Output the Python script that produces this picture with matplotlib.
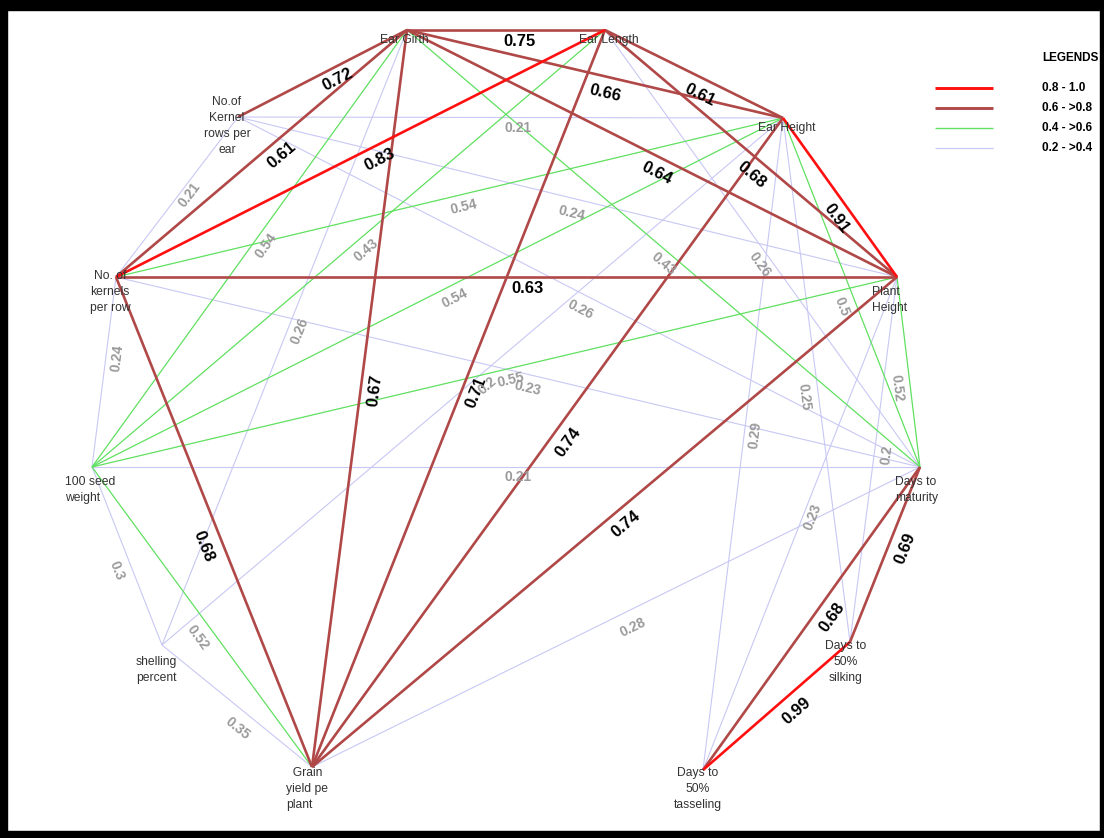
import numpy as np
import matplotlib.pyplot as plt
from matplotlib.patches import Rectangle

W, H = 1104, 838

# nodes of the correlation diagram (pixel layout of the original sketch)
node_keys = ["EG", "EL", "KR", "EH", "KP", "PH", "SW", "DM", "SP", "DS", "GY", "DT"]
node_labels = ["Ear Girth", "Ear Length", "No.of\nKernel\nrows per\near", "Ear Height",
               "No. of\nkernels\nper row", "Plant\nHeight", "100 seed\nweight", "Days to\nmaturity",
               "shelling\npercent", "Days to\n50%\nsilking", "  Grain\nyield pe\nplant",
               "Days to\n50%\ntasseling"]
node_x = [407, 605, 238, 783, 116, 897, 92, 920, 162, 850, 312, 703]
node_y = [30, 30, 117, 118, 277, 277, 467, 467, 645, 642, 767, 770]
# where each node caption sits relative to its node
lab_dx = [-3, 4, -11, 4, -6, -25, -27, -25, -26, -4, -26, -5]
lab_dy = [10, 10, 9, 10, 15, 23, 23, 23, 25, 20, 22, 19]
lab_ha = ["center", "center", "center", "center", "center", "left", "left", "left",
          "left", "center", "left", "center"]

# edges: source, target, correlation, label anchor
edge_src = ["EG", "KR", "KP", "KP", "EG", "EL", "EG", "EL", "EH", "KP", "GY", "GY", "GY", "GY",
            "KP", "DS", "DT", "DT",
            "KP", "SW", "SW", "SP", "SW", "SW", "SW", "SP", "KR", "KP", "SW", "KR", "EG", "KR",
            "EL", "EH", "PH", "DS", "EH", "DT", "DT", "GY", "SW", "SP", "SW", "KP"]
edge_dst = ["EL", "EG", "EG", "EL", "EH", "EH", "PH", "PH", "PH", "PH", "EG", "EL", "EH", "PH",
            "GY", "DM", "DM", "DS",
            "KR", "EG", "EL", "EG", "KP", "SP", "GY", "GY", "EH", "EH", "EH", "PH", "DM", "DM",
            "DM", "DM", "DM", "PH", "DS", "EH", "PH", "DM", "DM", "EH", "PH", "DM"]
edge_r = [0.75, 0.72, 0.61, 0.83, 0.66, 0.61, 0.64, 0.68, 0.91, 0.63, 0.67, 0.71, 0.74, 0.74,
          0.68, 0.69, 0.68, 0.99,
          0.21, 0.54, 0.43, 0.26, 0.24, 0.3, 0.52, 0.35, 0.21, 0.54, 0.54, 0.24, 0.43, 0.26,
          0.26, 0.5, 0.52, 0.2, 0.25, 0.29, 0.23, 0.28, 0.21, 0.2, 0.55, 0.23]
edge_lx = [520, 338, 282, 380, 605, 700, 657, 752, 836, 527, 375, 476, 568, 626,
           204, 905, 832, 797,
           190, 266, 366, 300, 117, 117, 198, 238, 518, 464, 455, 572, 663, 580,
           760, 842, 897, 887, 804, 755, 813, 633, 518, 487, 511, 528]
edge_ly = [41, 80, 155, 160, 93, 95, 173, 175, 218, 288, 390, 392, 442, 524,
           546, 548, 617, 711,
           195, 246, 250, 331, 358, 571, 638, 728, 128, 207, 298, 213, 264, 310,
           265, 307, 388, 455, 397, 435, 517, 627, 477, 386, 380, 388]

legend_text = ["0.8 - 1.0", "0.6 - >0.8", "0.4 - >0.6", "0.2 - >0.4"]
legend_r = [0.9, 0.7, 0.5, 0.3]
RED, BROWN, GREEN, LAV = "#ff1010", "#b04848", "#60e060", "#c8c8f4"


def style(r):
    if r >= 0.8:
        return RED, 1.9, 4
    if r >= 0.6:
        return BROWN, 1.9, 3
    if r >= 0.4:
        return GREEN, 0.9, 2
    return LAV, 0.8, 1


FONT = ["Liberation Sans Narrow", "Liberation Sans", "DejaVu Sans"]
plt.rcParams["font.family"] = FONT

fig = plt.figure(figsize=(W / 100, H / 100), dpi=100)
ax = fig.add_axes([0, 0, 1, 1])
ax.set_xlim(0, W)
ax.set_ylim(H, 0)
ax.axis("off")

pos = {k: (x, y) for k, x, y in zip(node_keys, node_x, node_y)}

for s, t, r, lx, ly in zip(edge_src, edge_dst, edge_r, edge_lx, edge_ly):
    (x1, y1), (x2, y2) = pos[s], pos[t]
    col, lw, z = style(r)
    ax.plot([x1, x2], [y1, y2], color=col, lw=lw, zorder=z, solid_capstyle="butt")
    ang = np.degrees(np.arctan2(-(y2 - y1), x2 - x1))
    strong = r >= 0.6
    ax.text(lx, ly, f"{r:g}", rotation=ang, rotation_mode="anchor", ha="center", va="center",
            fontsize=12 if strong else 10, fontweight="bold",
            color="black" if strong else "#9a9a9a", zorder=6)

for k, lab, dx, dy, ha in zip(node_keys, node_labels, lab_dx, lab_dy, lab_ha):
    x, y = pos[k]
    ax.text(x + dx, y + dy, lab, ha=ha, va="center", multialignment=ha,
            fontsize=8.7, color="#333333", linespacing=1.45, zorder=7,
            family=["Liberation Sans", "DejaVu Sans"])

# legend
ax.text(1042, 58, "LEGENDS", ha="left", va="center", fontsize=8.5, fontweight="bold", zorder=7)
for i, (txt, r) in enumerate(zip(legend_text, legend_r)):
    col, lw, _ = style(r)
    yy = 88 + 20 * i
    ax.plot([935, 993], [yy, yy], color=col, lw=lw * 1.1, solid_capstyle="butt")
    ax.text(1042, yy, txt, ha="left", va="center", fontsize=8.5, fontweight="bold")

# black frame
for rect in [(0, 0, W, 10), (0, 831, W, 7), (0, 0, 7, H), (1100, 0, 4, H)]:
    ax.add_patch(Rectangle(rect[:2], rect[2], rect[3], color="black", zorder=10))

fig.savefig("out.png", dpi=100)
